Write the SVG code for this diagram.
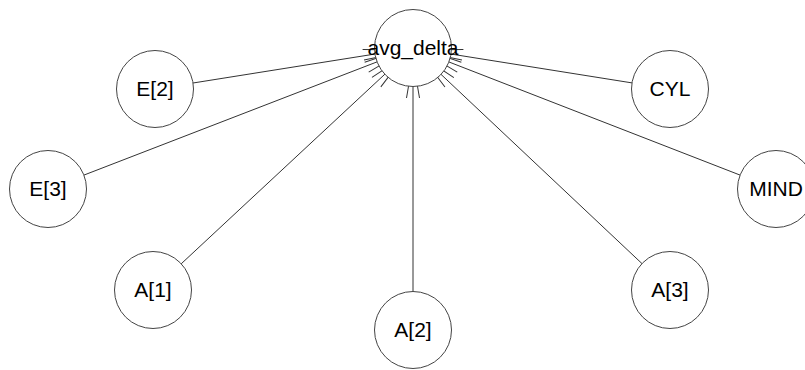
<svg xmlns="http://www.w3.org/2000/svg" width="805" height="370" viewBox="0 0 805 370">
<defs>
<style>
.n circle{fill:#fff;stroke:#444;stroke-width:1}
.n text{font-family:"Liberation Sans",Arial,sans-serif;font-size:21px;fill:#000;text-anchor:middle}
.e line{stroke:#333;stroke-width:1;fill:none}
</style>
<marker id="arr" markerUnits="userSpaceOnUse" markerWidth="42" markerHeight="16" viewBox="-40 -8 42 16" refX="0" refY="0" orient="auto">
<path d="M-38,-6.5 L0,0 L-38,6.5" fill="none" stroke="#333" stroke-width="1"/>
</marker>
</defs>
<rect width="805" height="370" fill="#fff"/>
<g id="edges" class="e">
<line x1="193.0" y1="83.0" x2="401.15" y2="49.88" marker-end="url(#arr)"/>
<line x1="83.9" y1="175.1" x2="401.81" y2="52.32" marker-end="url(#arr)"/>
<line x1="181.2" y1="263.8" x2="404.22" y2="56.18" marker-end="url(#arr)"/>
<line x1="413" y1="291.5" x2="413" y2="60" marker-end="url(#arr)"/>
<line x1="642.0" y1="263.6" x2="421.74" y2="56.23" marker-end="url(#arr)"/>
<line x1="632.0" y1="82.9" x2="424.85" y2="49.89" marker-end="url(#arr)"/>
<line x1="740.1" y1="175.1" x2="424.19" y2="52.35" marker-end="url(#arr)"/>
</g>
<g id="avg_delta" class="n"><circle cx="413" cy="48" r="38.5"/><text x="413" y="55">avg_delta</text></g>
<g id="E2" class="n"><circle cx="155" cy="89" r="38.5"/><text x="155" y="96">E[2]</text></g>
<g id="E3" class="n"><circle cx="48" cy="189" r="38.5"/><text x="48" y="196">E[3]</text></g>
<g id="A1" class="n"><circle cx="153" cy="290" r="38.5"/><text x="153" y="297">A[1]</text></g>
<g id="A2" class="n"><circle cx="413" cy="330" r="38.5"/><text x="413" y="337">A[2]</text></g>
<g id="A3" class="n"><circle cx="670" cy="290" r="38.5"/><text x="670" y="297">A[3]</text></g>
<g id="CYL" class="n"><circle cx="670" cy="89" r="38.5"/><text x="670" y="96">CYL</text></g>
<g id="MIND" class="n"><circle cx="776" cy="189" r="38.5"/><text x="776" y="196">MIND</text></g>
</svg>
